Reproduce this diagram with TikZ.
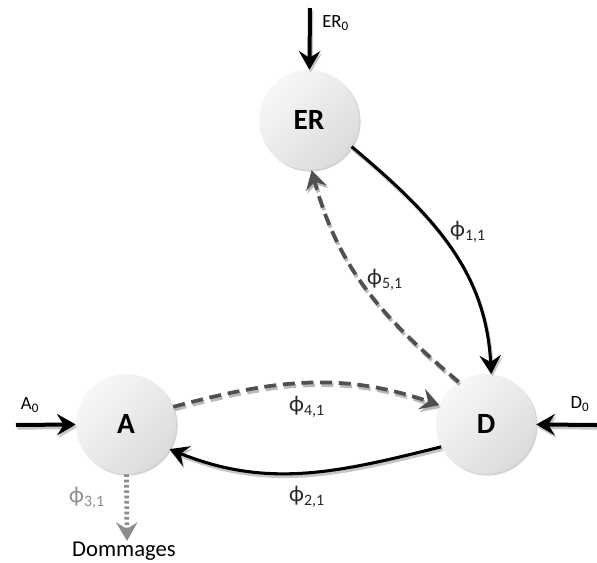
\documentclass[tikz,border=0pt]{standalone}
\usepackage{fontspec}
\setmainfont{Carlito}
\usetikzlibrary{arrows.meta,shadows}
\definecolor{dashgray}{RGB}{80,80,80}
\definecolor{lossgray}{RGB}{140,140,140}
\definecolor{phitext}{RGB}{38,38,38}
\newcommand{\phil}[1]{\char"03D5\textsubscript{#1}}
% all arrows, drawn once as shadow and once on top
\newcommand{\drawflows}{%
  \draw[inflow] (er0) -- (er);
  \draw[inflow] (a0) -- (a);
  \draw[inflow] (d0) -- (d);
  \draw[flow] (er.-32) to[out=40,in=-93] (d.84);
  \draw[dflow] (d.123) to[out=-140,in=75] (er.-87);
  \draw[dflow] (a.20) to[out=-15,in=-161] (d.158);
  \draw[flow] (d.207) to[out=166,in=22] (a.-30);}
\begin{document}
\begin{tikzpicture}[x=0.75pt,y=0.75pt,yscale=-1,xscale=1,
  state/.style={circle,minimum size=75pt,inner sep=0pt,top color=gray!6,bottom color=gray!28,shading angle=45,
    drop shadow={shadow xshift=1.2pt,shadow yshift=-1.2pt,opacity=0.35},font=\fontsize{22}{24}\selectfont\bfseries},
  tip/.style={-{Stealth[length=14pt,width=16pt,inset=5pt]}},
  flow/.style={tip,line width=2.3pt,black},
  dflow/.style={tip,line width=2.8pt,dashgray,dash pattern=on 9pt off 5pt},
  inflow/.style={tip,line width=3pt,black},
  loss/.style={tip,line width=3.5pt,lossgray,dash pattern=on 2pt off 2pt},
  lbl/.style={inner sep=0.75pt,text=phitext,font=\fontsize{17}{20}\selectfont},
  small/.style={inner sep=0.75pt,font=\fontsize{14}{16}\selectfont}]
\useasboundingbox (0,0) rectangle (597,562);
% compartments
\node[state] (er) at (309,120) {ER};
\node[state] (a) at (126,424) {A};
\node[state] (d) at (486,424) {D};
% sources and sink
\coordinate (er0) at (310,8);
\coordinate (a0) at (16,425);
\coordinate (d0) at (597,425);
\coordinate (dom) at (127,541);
\draw[loss] (a) -- (dom);
% transfers (angles flipped by yscale=-1)
\begin{scope}[transform canvas={xshift=1pt,yshift=-2pt},
  flow/.append style={gray!45},dflow/.append style={gray!55},inflow/.append style={gray!45}]
\drawflows
\end{scope}
\drawflows
% labels
\node[small,anchor=west] (er0lbl) at (321,23) {ER\textsubscript{0}};
\node[small] (a0lbl) at (30,405) {A\textsubscript{0}};
\node[small] (d0lbl) at (580,404) {D\textsubscript{0}};
\node[lbl,text=black] (domlbl) at (124,551) {Dommages};
\node[lbl] (l11) at (468,232) {\phil{1,1}};
\node[lbl] (l51) at (385,280) {\phil{5,1}};
\node[lbl] (l41) at (307,407) {\phil{4,1}};
\node[lbl] (l21) at (307,497) {\phil{2,1}};
\node[lbl,text=lossgray] (l31) at (87,498) {\phil{3,1}};
\end{tikzpicture}
\end{document}
